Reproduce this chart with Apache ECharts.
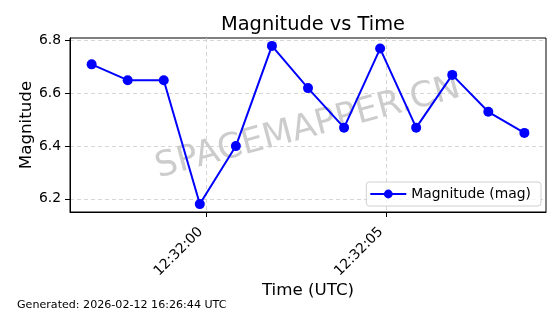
<!DOCTYPE html>
<html><head><meta charset="utf-8">
<script src="https://cdn.jsdelivr.net/npm/echarts@6/dist/echarts.min.js"></script>
<style>html,body{margin:0;padding:0;background:#fff}#c{width:560px;height:314px}</style>
</head><body><div id="c"></div>
<script>
const times = ['12:31:56.82','12:31:57.82','12:31:58.82','12:31:59.82','12:32:00.82','12:32:01.82','12:32:02.82','12:32:03.82','12:32:04.82','12:32:05.82','12:32:06.82','12:32:07.82','12:32:08.82'];
const magnitudes = [6.71, 6.65, 6.65, 6.18, 6.40, 6.78, 6.62, 6.47, 6.77, 6.47, 6.67, 6.53, 6.45];
const xTickLabels = ['12:32:00', '12:32:05'];
const yTicks = [6.2, 6.4, 6.6, 6.8];

function toSec(s){const p=s.split(':');return (+p[0])*3600+(+p[1])*60+(+p[2]);}
function fmt(v){const t=Math.round(v);const h=Math.floor(t/3600),m=Math.floor(t%3600/60),s=t%60;return [h,m,s].map(x=>String(x).padStart(2,'0')).join(':');}
const xs = times.map(toSec);
const xMin = xs[0], xMax = xs[xs.length-1], xPad = (xMax-xMin)*0.05;
const yMinD = Math.min(...magnitudes), yMaxD = Math.max(...magnitudes), yPad=(yMaxD-yMinD)*0.05;
const font = 'DejaVu Sans';
const chart = echarts.init(document.getElementById('c'), null, {renderer:'canvas'});
chart.setOption({
  animation:false,
  textStyle:{fontFamily:font},
  title:{text:'Magnitude vs Time',left:308,top:10,textAlign:'center',textStyle:{fontFamily:font,fontSize:19.4,fontWeight:'normal',color:'#000'}},
  grid:{left:70,right:14,top:38,bottom:102,show:true,borderColor:'#000',borderWidth:1,backgroundColor:'transparent'},
  xAxis:{type:'value',min:xMin-xPad,max:xMax+xPad,
    name:'Time (UTC)',nameLocation:'middle',nameGap:70,nameMoveOverlap:false,nameTextStyle:{fontFamily:font,fontSize:16.7,color:'#000'},
    axisLine:{show:true,onZero:false,lineStyle:{color:'#000',width:1}},
    axisTick:{show:true,length:5,inside:false,customValues:xTickLabels.map(toSec),lineStyle:{color:'#000'}},
    axisLabel:{rotate:45,margin:12,padding:[0,8,0,0],fontSize:13.9,color:'#000',fontFamily:font,customValues:xTickLabels.map(toSec),formatter:v=>fmt(v)},
    splitLine:{show:true,lineStyle:{color:'#cccccc',type:[4,3],width:0.8}}
  },
  yAxis:{type:'value',min:yMinD-yPad,max:yMaxD+yPad,
    name:'Magnitude',nameLocation:'middle',nameGap:35,nameMoveOverlap:false,nameRotate:90,nameTextStyle:{fontFamily:font,fontSize:16.7,color:'#000'},
    axisLine:{show:true,onZero:false,lineStyle:{color:'#000',width:1}},
    axisTick:{show:true,length:5,inside:false,customValues:yTicks,lineStyle:{color:'#000'}},
    axisLabel:{margin:9,fontSize:13.9,color:'#000',fontFamily:font,customValues:yTicks,formatter:v=>v.toFixed(1)},
    splitLine:{show:true,lineStyle:{color:'#cccccc',type:[4,3],width:0.8}}
  },
  legend:{right:19,bottom:108,orient:'horizontal',itemWidth:36,itemHeight:11,padding:[5,10,5,3],
    borderColor:'#d0d0d0',borderWidth:1,borderRadius:3,backgroundColor:'rgba(255,255,255,0.8)',
    textStyle:{fontFamily:font,fontSize:13.9,color:'#000'},data:['Magnitude (mag)']},
  graphic:[
    {type:'text',x:308,y:128,rotation:15*Math.PI/180,z:-1,zlevel:0,
      style:{text:'SPACEMAPPER.CN',font:'35px "DejaVu Sans"',fill:'rgba(128,128,128,0.4)',align:'center',verticalAlign:'middle'}},
    {type:'text',left:17,top:300,style:{text:'Generated: 2026-02-12 16:26:44 UTC',font:'11.1px "DejaVu Sans"',fill:'#000'}}
  ],
  series:[{name:'Magnitude (mag)',type:'line',data:xs.map((x,i)=>[x,magnitudes[i]]),
    symbol:'circle',symbolSize:10,showSymbol:true,
    lineStyle:{color:'#0000ff',width:2},itemStyle:{color:'#0000ff'},z:5}]
});
</script></body></html>
